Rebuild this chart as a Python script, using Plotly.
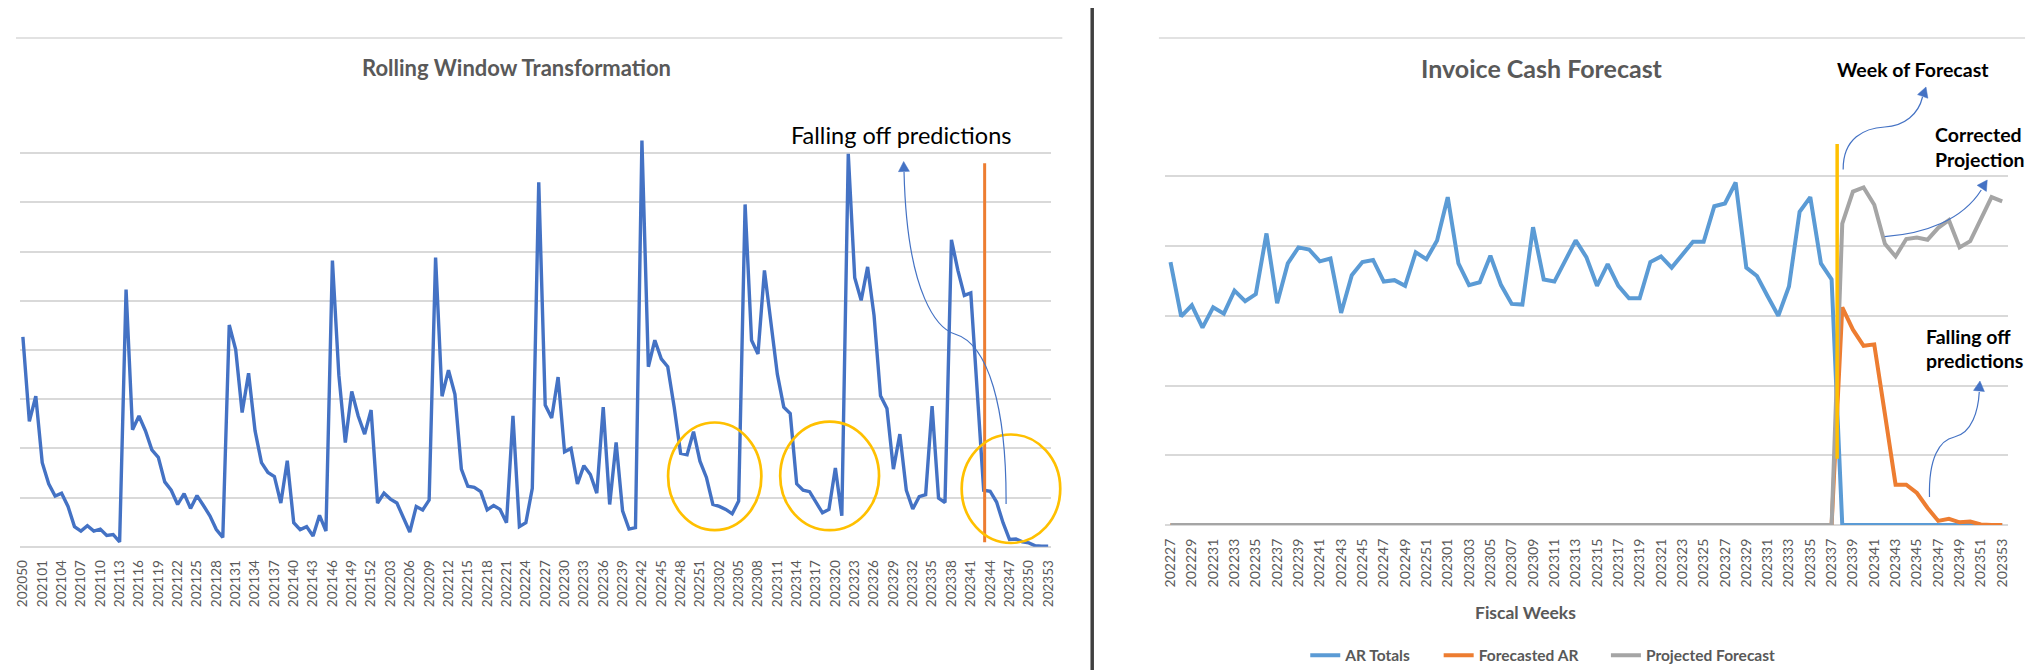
import math
import plotly.graph_objects as go

W, H = 2035, 670


def weeks(year, first, last):
    return [f"{year}{w:02d}" for w in range(first, last + 1)]


# ---------------- data ----------------
left_weeks = weeks(2020, 50, 52) + weeks(2021, 1, 52) + weeks(2022, 1, 52) + weeks(2023, 1, 53)
left_ticks = left_weeks[::3]
rolling_values = [
    4.27, 2.55, 3.06, 1.71, 1.28, 1.03, 1.09, 0.82, 0.41, 0.32,
    0.43, 0.32, 0.36, 0.23, 0.25, 0.10, 5.23, 2.38, 2.66, 2.36,
    1.97, 1.82, 1.32, 1.15, 0.86, 1.08, 0.78, 1.04, 0.84, 0.63,
    0.35, 0.19, 4.51, 4.01, 2.73, 3.53, 2.36, 1.71, 1.51, 1.43,
    0.89, 1.75, 0.49, 0.35, 0.41, 0.22, 0.64, 0.32, 5.82, 3.49,
    2.12, 3.16, 2.66, 2.29, 2.78, 0.89, 1.09, 0.97, 0.89, 0.58,
    0.30, 0.82, 0.75, 0.95, 5.88, 3.06, 3.59, 3.10, 1.58, 1.23,
    1.21, 1.12, 0.75, 0.84, 0.76, 0.49, 2.66, 0.41, 0.49, 1.19,
    7.41, 2.88, 2.62, 3.45, 1.93, 2.00, 1.28, 1.65, 1.47, 1.09,
    2.84, 0.86, 2.12, 0.73, 0.36, 0.39, 8.26, 3.66, 4.20, 3.82,
    3.66, 2.84, 1.90, 1.87, 2.34, 1.74, 1.41, 0.86, 0.82, 0.76,
    0.67, 0.93, 6.96, 4.20, 3.92, 5.62, 4.57, 3.51, 2.84, 2.71,
    1.28, 1.15, 1.12, 0.90, 0.69, 0.76, 1.60, 0.63, 7.99, 5.47,
    5.01, 5.69, 4.70, 3.07, 2.81, 1.58, 2.29, 1.15, 0.77, 1.02,
    1.06, 2.86, 0.99, 0.90, 6.24, 5.62, 5.11, 5.16, 3.14, 1.15,
    1.13, 0.91, 0.49, 0.15, 0.16, 0.10, 0.08, 0.02, 0.01, 0.01,
]

right_weeks = weeks(2022, 27, 52) + weeks(2023, 1, 53)
right_ticks = right_weeks[::2]
ar_totals = [
    3.77, 2.99, 3.15, 2.83, 3.12, 3.03, 3.36, 3.21, 3.31, 4.18,
    3.18, 3.75, 3.98, 3.95, 3.78, 3.82, 3.04, 3.58, 3.77, 3.80,
    3.49, 3.51, 3.43, 3.91, 3.81, 4.08, 4.70, 3.75, 3.44, 3.48,
    3.86, 3.44, 3.17, 3.16, 4.27, 3.52, 3.49, 3.80, 4.08, 3.84,
    3.43, 3.74, 3.43, 3.25, 3.25, 3.77, 3.85, 3.69, 3.87, 4.06,
    4.06, 4.57, 4.61, 4.91, 3.69, 3.57, 3.28, 3.00, 3.42, 4.49,
    4.70, 3.75, 3.52, 0, 0, 0, 0, 0, 0, 0,
    0, 0, 0, 0, 0, 0, 0, 0, 0,
]
forecasted_ar = [
    0, 0, 0, 0, 0, 0, 0, 0, 0, 0,
    0, 0, 0, 0, 0, 0, 0, 0, 0, 0,
    0, 0, 0, 0, 0, 0, 0, 0, 0, 0,
    0, 0, 0, 0, 0, 0, 0, 0, 0, 0,
    0, 0, 0, 0, 0, 0, 0, 0, 0, 0,
    0, 0, 0, 0, 0, 0, 0, 0, 0, 0,
    0, 0, 0, 3.12, 2.80, 2.57, 2.59, 1.59, 0.58, 0.58,
    0.46, 0.245, 0.06, 0.09, 0.04, 0.05, 0.01, 0.0, 0.0,
]
projected_forecast = [
    0, 0, 0, 0, 0, 0, 0, 0, 0, 0,
    0, 0, 0, 0, 0, 0, 0, 0, 0, 0,
    0, 0, 0, 0, 0, 0, 0, 0, 0, 0,
    0, 0, 0, 0, 0, 0, 0, 0, 0, 0,
    0, 0, 0, 0, 0, 0, 0, 0, 0, 0,
    0, 0, 0, 0, 0, 0, 0, 0, 0, 0,
    0, 0, 0, 4.32, 4.78, 4.84, 4.59, 4.03, 3.85, 4.10,
    4.12, 4.09, 4.26, 4.37, 3.98, 4.07, 4.38, 4.70, 4.64,
]

# ---------------- styling ----------------
FONT = "Lato"
GRID = "#D9D9D9"
TXT = "#595959"
BLUE_ARROW = "#4472C4"


def X(px):
    return px / W


def Y(py):
    return 1 - py / H


def pstr(p):
    return f"{X(p[0]):.5f},{Y(p[1]):.5f}"


def curve(start, *segs):
    s = "M " + pstr(start)
    for seg in segs:
        s += " C " + " ".join(pstr(p) for p in seg)
    return s


def arrowhead(tip, d, length=10, half=5):
    dx, dy = d
    n = math.hypot(dx, dy)
    dx, dy = dx / n, dy / n
    bx, by = tip[0] - length * dx, tip[1] - length * dy
    nx, ny = -dy, dx
    pts = [tip, (bx + half * nx, by + half * ny), (bx - half * nx, by - half * ny)]
    return "M " + " L ".join(pstr(p) for p in pts) + " Z"


fig = go.Figure()

fig.add_trace(go.Scatter(
    x=left_weeks, y=rolling_values, mode="lines", name="Rolling",
    line=dict(color="#4472C4", width=3.4), showlegend=False,
    xaxis="x", yaxis="y",
))
fig.add_trace(go.Scatter(
    x=right_weeks, y=ar_totals, mode="lines", name="AR Totals",
    line=dict(color="#5B9BD5", width=4), xaxis="x2", yaxis="y2", legend="legend",
))
fig.add_trace(go.Scatter(
    x=right_weeks, y=forecasted_ar, mode="lines", name="Forecasted AR",
    line=dict(color="#ED7D31", width=4), xaxis="x2", yaxis="y2", legend="legend2",
))
fig.add_trace(go.Scatter(
    x=right_weeks, y=projected_forecast, mode="lines", name="Projected Forecast",
    line=dict(color="#A5A5A5", width=4), xaxis="x2", yaxis="y2", legend="legend3",
))

# ---------------- layout geometry (pixels) ----------------
L_LEFT, L_RIGHT, L_TOP, L_BOT = 6.7, 1043.0, 96.0, 538.8
R_LEFT, R_RIGHT, R_TOP, R_BOT = 1157.3, 2003.4, 98.3, 517.1

xaxis_common = dict(
    type="category", showgrid=False, zeroline=False, showline=False,
    tickangle=-90, ticks="outside", ticklen=7, tickcolor="rgba(0,0,0,0)",
    tickmode="array", fixedrange=True,
)
yaxis_common = dict(
    showgrid=True, gridcolor=GRID, gridwidth=1.5, zeroline=True,
    zerolinecolor=GRID, zerolinewidth=1.5, showticklabels=False,
    showline=False, dtick=1, tick0=0, fixedrange=True,
)

legend_common = dict(
    orientation="h", yanchor="middle", y=Y(647.7), xanchor="left",
    bgcolor="rgba(0,0,0,0)", borderwidth=0,
    font=dict(family=FONT, size=15.5, color=TXT, weight="bold"),
    itemclick=False, itemdoubleclick=False,
)

fig.update_layout(
    width=W, height=H, autosize=False,
    margin=dict(l=0, r=0, t=0, b=0, pad=0),
    paper_bgcolor="white", plot_bgcolor="white",
    font=dict(family=FONT, color=TXT),
    xaxis=dict(
        **xaxis_common, domain=[X(L_LEFT), X(L_RIGHT)], range=[-0.5, 159.5],
        anchor="y", tickvals=left_ticks, ticktext=left_ticks,
        tickfont=dict(family=FONT, size=13.5, color=TXT),
    ),
    yaxis=dict(**yaxis_common, domain=[Y(L_BOT), Y(L_TOP)], range=[0, 9.002], anchor="x"),
    xaxis2=dict(
        **xaxis_common, domain=[X(R_LEFT), X(R_RIGHT)], range=[-0.5, 78.5],
        anchor="y2", tickvals=right_ticks, ticktext=right_ticks,
        tickfont=dict(family=FONT, size=14, color=TXT),
    ),
    yaxis2=dict(**yaxis_common, domain=[Y(R_BOT), Y(R_TOP)], range=[0, 6.002], anchor="x2"),
    legend=dict(**legend_common, x=X(1298)),
    legend2=dict(**legend_common, x=X(1432)),
    legend3=dict(**legend_common, x=X(1600)),
    hovermode=False,
)

shapes = []
# top chart borders and divider
shapes.append(dict(type="line", xref="paper", yref="paper", x0=X(3), x1=X(1054), y0=Y(30), y1=Y(30),
                   line=dict(color=GRID, width=1.5)))
shapes.append(dict(type="line", xref="paper", yref="paper", x0=X(1151), x1=X(2021), y0=Y(30), y1=Y(30),
                   line=dict(color=GRID, width=1.5)))
shapes.append(dict(type="line", xref="paper", yref="paper", x0=X(1084), x1=X(1084), y0=0, y1=1,
                   line=dict(color="#404040", width=3.5)))

# left chart: week marker (orange) and highlight ellipses
shapes.append(dict(type="line", xref="x", yref="y", x0=149.15, x1=149.15, y0=0.09, y1=7.8,
                   line=dict(color="#ED7D31", width=3), layer="above"))
for (x0, x1, y0, y1) in [(658.0, 751.7, 414.5, 522.2), (770.6, 869.9, 413.7, 522.2),
                         (952.9, 1051.9, 426.5, 535.0)]:
    shapes.append(dict(type="circle", xref="paper", yref="paper", x0=X(x0), x1=X(x1), y0=Y(y1), y1=Y(y0),
                       line=dict(color="#FFC000", width=2.7), layer="above"))

# left curved arrow
shapes.append(dict(type="path", xref="paper", yref="paper",
                   path=curve((997.5, 496), [(998, 400), (980, 336), (946, 326)],
                              [(930, 321), (898, 290), (895, 164)]),
                   line=dict(color=BLUE_ARROW, width=1.2), layer="above"))
shapes.append(dict(type="path", xref="paper", yref="paper",
                   path=arrowhead((894.6, 153.5), (-0.03, -1), 10, 5.5),
                   fillcolor=BLUE_ARROW, line=dict(color=BLUE_ARROW, width=0.5), layer="above"))

# right chart: forecast week marker (yellow)
shapes.append(dict(type="line", xref="x2", yref="y2", x0=62.52, x1=62.52, y0=0.95, y1=5.46,
                   line=dict(color="#FFC000", width=3.5), layer="above"))

# right arrows
shapes.append(dict(type="path", xref="paper", yref="paper",
                   path=curve((1838.3, 161.5), [(1838, 130), (1860, 120), (1880, 119)],
                              [(1900, 118), (1914, 106), (1918, 89)]),
                   line=dict(color=BLUE_ARROW, width=1.2), layer="above"))
shapes.append(dict(type="path", xref="paper", yref="paper",
                   path=arrowhead((1921.5, 79), (0.35, -1), 10, 5.5),
                   fillcolor=BLUE_ARROW, line=dict(color=BLUE_ARROW, width=0.5), layer="above"))

shapes.append(dict(type="path", xref="paper", yref="paper",
                   path=curve((1880, 228.6), [(1920, 226), (1958, 212), (1977, 182)]),
                   line=dict(color=BLUE_ARROW, width=1.2), layer="above"))
shapes.append(dict(type="path", xref="paper", yref="paper",
                   path=arrowhead((1983, 172), (0.55, -0.84), 10, 5.5),
                   fillcolor=BLUE_ARROW, line=dict(color=BLUE_ARROW, width=0.5), layer="above"))

shapes.append(dict(type="path", xref="paper", yref="paper",
                   path=curve((1925, 489), [(1924, 450), (1935, 432), (1950, 429)],
                              [(1968, 425), (1974, 402), (1975, 384)]),
                   line=dict(color=BLUE_ARROW, width=1.2), layer="above"))
shapes.append(dict(type="path", xref="paper", yref="paper",
                   path=arrowhead((1975.7, 373), (0.1, -1), 10, 5.5),
                   fillcolor=BLUE_ARROW, line=dict(color=BLUE_ARROW, width=0.5), layer="above"))

fig.update_layout(shapes=shapes)

annotations = [
    dict(text="Rolling Window Transformation", x=X(506), y=Y(59.8), xanchor="center", yanchor="middle",
         font=dict(family=FONT, size=22, color=TXT, weight="bold")),
    dict(text="Invoice Cash Forecast", x=X(1536), y=Y(59.8), xanchor="center", yanchor="middle",
         font=dict(family=FONT, size=25, color=TXT, weight="bold")),
    dict(text="Falling off predictions", x=X(779), y=Y(126.7), xanchor="left", yanchor="middle",
         font=dict(family=FONT, size=23.5, color="#000000")),
    dict(text="Fiscal Weeks", x=X(1518.8), y=Y(604.7), xanchor="center", yanchor="middle",
         font=dict(family=FONT, size=17.5, color=TXT, weight="bold")),
    dict(text="Week of Forecast", x=X(1830), y=Y(61.1), xanchor="left", yanchor="middle",
         font=dict(family=FONT, size=19.5, color="#000000", weight="bold")),
    dict(text="Corrected", x=X(1929), y=Y(126), xanchor="left", yanchor="middle",
         font=dict(family=FONT, size=19.5, color="#000000", weight="bold")),
    dict(text="Projection", x=X(1929), y=Y(151.7), xanchor="left", yanchor="middle",
         font=dict(family=FONT, size=19.5, color="#000000", weight="bold")),
    dict(text="Falling off", x=X(1919), y=Y(328.2), xanchor="left", yanchor="middle",
         font=dict(family=FONT, size=19.5, color="#000000", weight="bold")),
    dict(text="predictions", x=X(1919), y=Y(352.6), xanchor="left", yanchor="middle",
         font=dict(family=FONT, size=19.5, color="#000000", weight="bold")),
]
for a in annotations:
    a.update(xref="paper", yref="paper", showarrow=False)
fig.update_layout(annotations=annotations)

fig.write_html("out.html")
